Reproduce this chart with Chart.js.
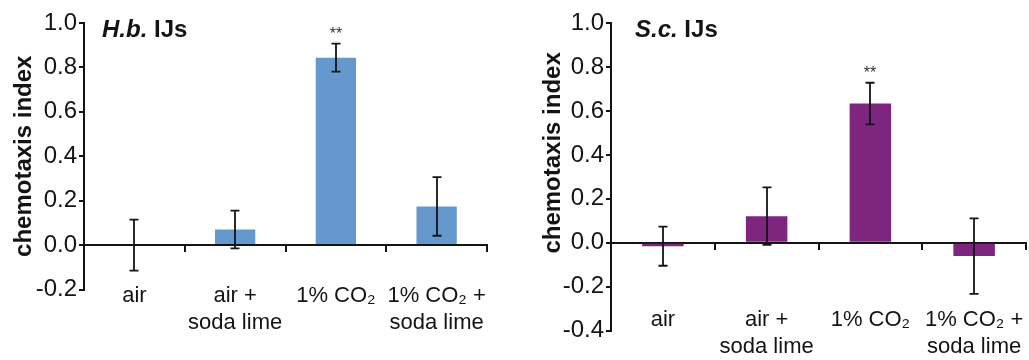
<!DOCTYPE html>
<html><head><meta charset="utf-8">
<script src="https://cdn.jsdelivr.net/npm/chart.js@4/dist/chart.umd.min.js"></script>
<style>
html,body{margin:0;padding:0;background:#fff;}
#wrap{position:relative;width:1029px;height:360px;overflow:hidden;background:#fff;}
canvas{position:absolute;top:0;}
#c1{left:0;}
#c2{left:527px;}
</style></head><body>
<div id="wrap"><canvas id="c1" width="500" height="360"></canvas><canvas id="c2" width="502" height="360"></canvas></div>
<script>
const categories = [['air'], ['air +', 'soda lime'], ['1% CO\u2082'], ['1% CO\u2082 +', 'soda lime']];
const hbValues = [0.0, 0.07, 0.844, 0.174];
const hbErrors = [0.115, 0.085, 0.063, 0.132];
const hbSig = ['', '', '**', ''];
const scValues = [-0.016, 0.121, 0.634, -0.061];
const scErrors = [0.089, 0.131, 0.095, 0.172];
const scSig = ['', '', '**', ''];
const hbTicks = [-0.2, 0, 0.2, 0.4, 0.6, 0.8, 1.0];
const scTicks = [-0.4, -0.2, 0, 0.2, 0.4, 0.6, 0.8, 1.0];
const yTitle = 'chemotaxis index';

const FONT = '"Liberation Sans", Arial, Helvetica, sans-serif';
const INK = '#141414';

const extras = {
  id: 'extras',
  afterDatasetsDraw(chart, args, opts) {
    const ctx = chart.ctx, y = chart.scales.y;
    const meta = chart.getDatasetMeta(0);
    ctx.save();
    ctx.strokeStyle = INK; ctx.lineWidth = 1.8; ctx.lineCap = 'butt';
    meta.data.forEach((bar, i) => {
      const v = opts.values[i], e = opts.errors[i];
      const yt = y.getPixelForValue(v + e), yb = y.getPixelForValue(v - e);
      const x = Math.round(bar.x);
      ctx.beginPath();
      ctx.moveTo(x, yt); ctx.lineTo(x, yb);
      ctx.moveTo(x - 4.5, yt); ctx.lineTo(x + 4.5, yt);
      ctx.moveTo(x - 4.5, yb); ctx.lineTo(x + 4.5, yb);
      ctx.stroke();
      if (opts.sig[i]) {
        ctx.fillStyle = '#333';
        ctx.font = '16px ' + FONT;
        ctx.textAlign = 'center'; ctx.textBaseline = 'alphabetic';
        ctx.fillText(opts.sig[i], x, yt - 5);
      }
    });
    ctx.fillStyle = INK; ctx.textAlign = 'left'; ctx.textBaseline = 'middle';
    const x0 = chart.chartArea.left + opts.titleDx, y0 = chart.chartArea.top + opts.titleDy;
    ctx.font = 'italic bold 24px ' + FONT;
    ctx.fillText(opts.titleItalic, x0, y0);
    const w = ctx.measureText(opts.titleItalic).width;
    ctx.font = 'bold 24px ' + FONT;
    ctx.fillText(opts.titleRest, x0 + w, y0);
    ctx.restore();
  }
};

function makeChart(id, cfg) {
  return new Chart(document.getElementById(id), {
    type: 'bar',
    data: {
      labels: categories,
      datasets: [{
        data: cfg.values,
        backgroundColor: cfg.color,
        borderWidth: 0,
        barPercentage: 0.4,
        categoryPercentage: 1.0,
        xAxisID: 'x',
        yAxisID: 'y'
      }]
    },
    plugins: [extras],
    options: {
      responsive: false,
      animation: false,
      devicePixelRatio: 1,
      layout: { padding: { top: cfg.padTop, right: cfg.padRight, left: 0, bottom: cfg.padBottom } },
      plugins: {
        legend: { display: false },
        tooltip: { enabled: false },
        extras: {
          values: cfg.values, errors: cfg.errors, sig: cfg.sig,
          titleItalic: cfg.titleItalic, titleRest: cfg.titleRest,
          titleDx: cfg.titleDx, titleDy: cfg.titleDy
        }
      },
      scales: {
        x: {
          type: 'category',
          position: { y: 0 },
          offset: true,
          border: { display: true, color: INK, width: 2 },
          grid: { display: true, offset: true, drawOnChartArea: false, drawTicks: true, tickLength: 6, color: INK, lineWidth: 2 },
          ticks: { display: false }
        },
        x2: {
          type: 'category',
          position: { y: cfg.ticks[0] },
          offset: true,
          border: { display: false },
          grid: { display: false, drawTicks: false },
          ticks: {
            color: INK, padding: cfg.xLabelPad, maxRotation: 0, autoSkip: false,
            font: { family: FONT, size: 22, lineHeight: 1.27 }
          }
        },
        y: {
          type: 'linear',
          position: 'left',
          min: cfg.ticks[0],
          max: cfg.ticks[cfg.ticks.length - 1],
          border: { display: true, color: INK, width: 2 },
          grid: { drawOnChartArea: false, drawTicks: true, tickLength: 5, color: INK, lineWidth: 2 },
          afterBuildTicks: s => { s.ticks = cfg.ticks.map(v => ({ value: v })); },
          ticks: {
            color: INK, padding: 2,
            font: { family: FONT, size: 24 },
            callback: v => Number(v).toFixed(1)
          },
          title: {
            display: true, text: cfg.yTitleText, color: INK,
            font: { family: FONT, size: 24, weight: 'bold' },
            padding: { top: cfg.yTitlePad, bottom: 0 }
          },
          afterFit: s => { s.width = 84; }
        }
      }
    }
  });
}

makeChart('c1', {
  values: hbValues, errors: hbErrors, sig: hbSig, ticks: hbTicks,
  color: '#6598CD', titleItalic: 'H.b.', titleRest: ' IJs',
  titleDx: 18, titleDy: 7, padTop: 23, padRight: 13, padBottom: 70.5, xLabelPad: -8,
  yTitleText: yTitle, yTitlePad: 10
});
makeChart('c2', {
  values: scValues, errors: scErrors, sig: scSig, ticks: scTicks,
  color: '#7E2580', titleItalic: 'S.c.', titleRest: ' IJs',
  titleDx: 24, titleDy: 7, padTop: 23.3, padRight: 3, padBottom: 29.5, xLabelPad: -25,
  yTitleText: '\u2002\u2002\u2002\u2002' + yTitle, yTitlePad: 12
});
</script>
</body></html>
